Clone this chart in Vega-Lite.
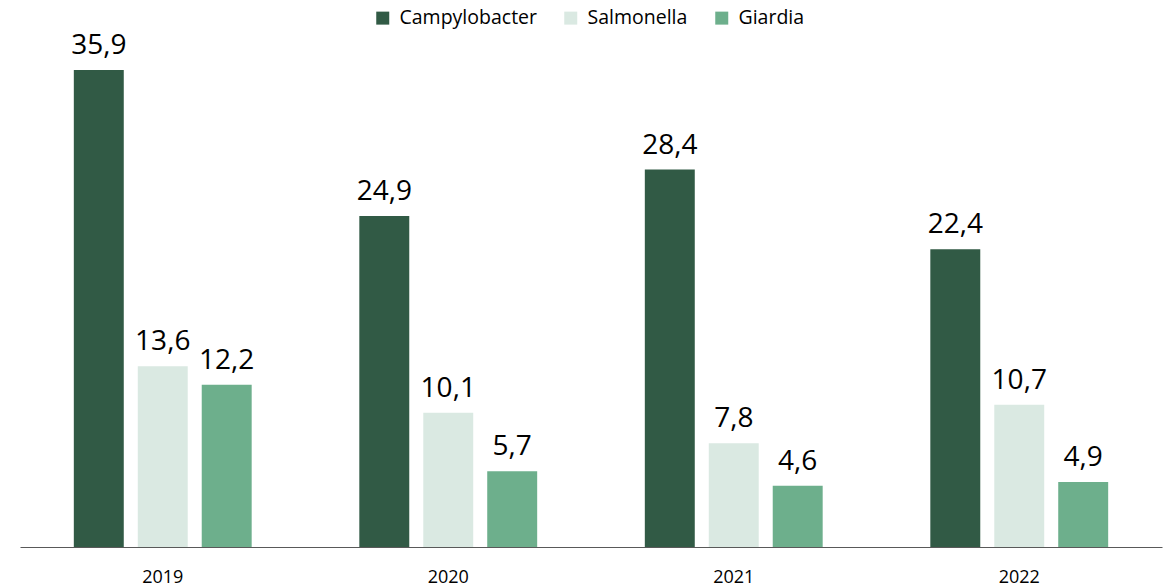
{
  "$schema": "https://vega.github.io/schema/vega-lite/v6.json",
  "width": 1142,
  "height": 505,
  "padding": {"left": 20, "top": 8, "right": 5, "bottom": 5},
  "background": "white",
  "config": {
    "view": {"stroke": null},
    "font": "Open Sans",
    "locale": {"number": {"decimal": ",", "thousands": ".", "grouping": [3], "currency": ["", ""]}}
  },
  "data": {
    "values": [
      {"year": "2019", "pathogen": "Campylobacter", "value": 35.9},
      {"year": "2019", "pathogen": "Salmonella", "value": 13.6},
      {"year": "2019", "pathogen": "Giardia", "value": 12.2},
      {"year": "2020", "pathogen": "Campylobacter", "value": 24.9},
      {"year": "2020", "pathogen": "Salmonella", "value": 10.1},
      {"year": "2020", "pathogen": "Giardia", "value": 5.7},
      {"year": "2021", "pathogen": "Campylobacter", "value": 28.4},
      {"year": "2021", "pathogen": "Salmonella", "value": 7.8},
      {"year": "2021", "pathogen": "Giardia", "value": 4.6},
      {"year": "2022", "pathogen": "Campylobacter", "value": 22.4},
      {"year": "2022", "pathogen": "Salmonella", "value": 10.7},
      {"year": "2022", "pathogen": "Giardia", "value": 4.9}
    ]
  },
  "encoding": {
    "x": {
      "field": "year", "type": "nominal", "title": null,
      "scale": {"paddingInner": 0.377, "paddingOuter": 0.1885},
      "axis": {"labelAngle": 0, "ticks": false, "domainColor": "#595959", "labelFontSize": 18, "labelColor": "#000000", "labelPadding": 21, "labelFont": "Open Sans"}
    },
    "xOffset": {
      "field": "pathogen", "type": "nominal",
      "sort": ["Campylobacter", "Salmonella", "Giardia"],
      "scale": {"paddingInner": 0.219, "paddingOuter": 0}
    },
    "y": {
      "field": "value", "type": "quantitative",
      "scale": {"domain": [0, 38], "nice": false},
      "axis": null
    }
  },
  "layer": [
    {
      "mark": {"type": "bar"},
      "encoding": {
        "color": {
          "field": "pathogen", "type": "nominal",
          "sort": ["Campylobacter", "Salmonella", "Giardia"],
          "scale": {"domain": ["Campylobacter", "Salmonella", "Giardia"], "range": ["#315A45", "#DAE9E2", "#6DAF8C"]},
          "legend": {
            "title": null, "orient": "none", "direction": "horizontal",
            "legendX": 353, "legendY": -34,
            "symbolType": "square", "symbolSize": 169, "symbolStrokeWidth": 0,
            "labelFontSize": 19.5, "labelColor": "#000000", "labelFont": "Open Sans",
            "columnPadding": 24, "labelOffset": 7
          }
        }
      }
    },
    {
      "mark": {"type": "text", "baseline": "bottom", "dy": -10, "fontSize": 28, "color": "#000000"},
      "encoding": {
        "text": {"field": "value", "type": "quantitative", "format": ".1f"}
      }
    }
  ]
}
